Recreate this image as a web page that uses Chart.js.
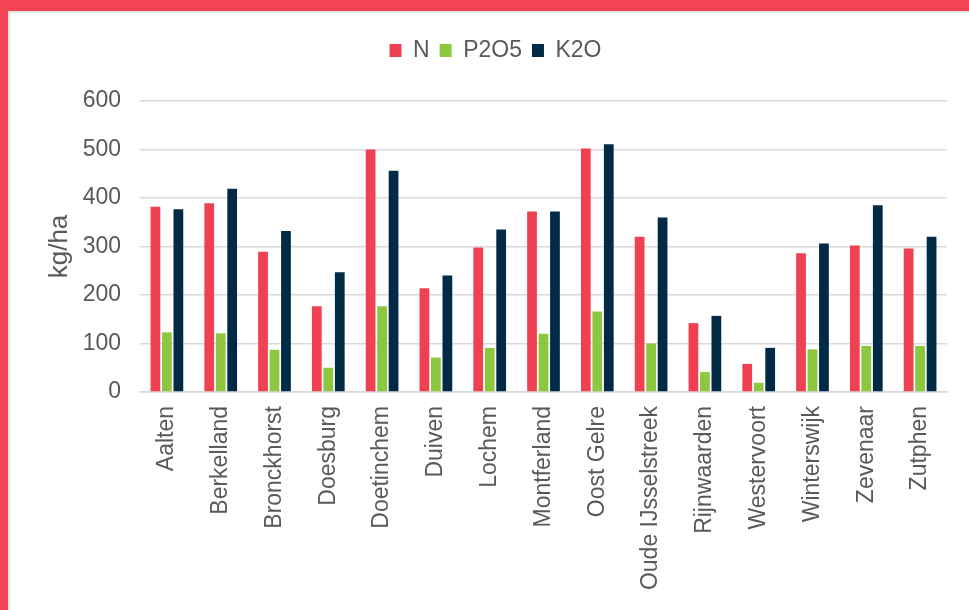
<!DOCTYPE html>
<html>
<head>
<meta charset="utf-8">
<script src="https://cdn.jsdelivr.net/npm/chart.js@4"></script>
<style>
  body { margin: 0; background: #fff; }
  #frame {
    position: absolute; left: 0; top: 0; width: 961px; height: 599px;
    border-top: 11px solid #F24455; border-left: 8px solid #F24455;
  }
  #inner {
    position: absolute; left: 0; top: 0; width: 959px; height: 597px;
    border-top: 2px solid #e3e3e3; border-left: 2px solid #e3e3e3;
  }
  #wrap { position: absolute; left: 0; top: 0; width: 959px; height: 597px; }
</style>
</head>
<body>
<div id="frame"><div id="inner"><div id="wrap"><canvas id="chart"></canvas></div></div></div>
<script>
// gemeenten
const categories = ['Aalten', 'Berkelland', 'Bronckhorst', 'Doesburg', 'Doetinchem', 'Duiven', 'Lochem',
  'Montferland', 'Oost Gelre', 'Oude IJsselstreek', 'Rijnwaarden', 'Westervoort', 'Winterswijk', 'Zevenaar', 'Zutphen'];

// kg/ha per gemeente
const nValues    = [382, 389, 289, 177, 500, 214, 298, 372, 502, 320, 142, 58, 286, 302, 296];
const p2o5Values = [123, 121, 87, 50, 177, 71, 91, 120, 166, 100, 41, 19, 88, 95, 95];
const k2oValues  = [377, 419, 332, 247, 456, 240, 335, 372, 511, 360, 157, 91, 306, 385, 320];

const yTicks = [0, 100, 200, 300, 400, 500, 600];

const textColor = '#595959';
const family = "'Liberation Sans', Arial, sans-serif";

// legend height is fixed so the plot starts where it does in the original
const legendHeight = {
  id: 'legendHeight',
  beforeLayout(chart) {
    const legend = chart.legend;
    if (legend && !legend._patched) {
      const fit = legend.fit;
      legend.fit = function () {
        fit.call(this);
        this.height = 72;
      };
      legend._patched = true;
    }
  }
};

const data = {
  labels: categories,
  datasets: [
    { label: 'N', data: nValues, backgroundColor: '#F04152' },
    { label: 'P2O5', data: p2o5Values, backgroundColor: '#8DC63F' },
    { label: 'K2O', data: k2oValues, backgroundColor: '#002A46' }
  ]
};

const config = {
  type: 'bar',
  data: data,
  plugins: [legendHeight],
  options: {
    responsive: true,
    maintainAspectRatio: false,
    animation: false,
    layout: { padding: { left: 34, right: 22, top: 16, bottom: 0 } },
    datasets: {
      bar: { categoryPercentage: 0.64, barPercentage: 0.85 }
    },
    plugins: {
      legend: {
        position: 'top',
        labels: { boxWidth: 12, boxHeight: 13, padding: 10, color: textColor, font: { family: family, size: 23 } }
      },
      tooltip: { enabled: false }
    },
    scales: {
      x: {
        grid: { display: false, drawTicks: false },
        border: { color: '#d9d9d9', width: 1.5 },
        ticks: { color: textColor, font: { family: family, size: 23 }, minRotation: 90, maxRotation: 90, padding: 14 },
        afterFit: function (scale) { scale.height = 218; }
      },
      y: {
        min: 0,
        max: 600,
        afterBuildTicks: function (scale) { scale.ticks = yTicks.map(v => ({ value: v })); },
        grid: { color: '#d9d9d9', lineWidth: 1.5, drawTicks: false },
        border: { display: false },
        ticks: { color: textColor, font: { family: family, size: 23 }, padding: 19 },
        title: { display: true, text: 'kg/ha', color: textColor, font: { family: family, size: 26 }, padding: 0 },
        afterFit: function (scale) { scale.width = 96; }
      }
    }
  }
};

new Chart(document.getElementById('chart'), config);
</script>
</body>
</html>
